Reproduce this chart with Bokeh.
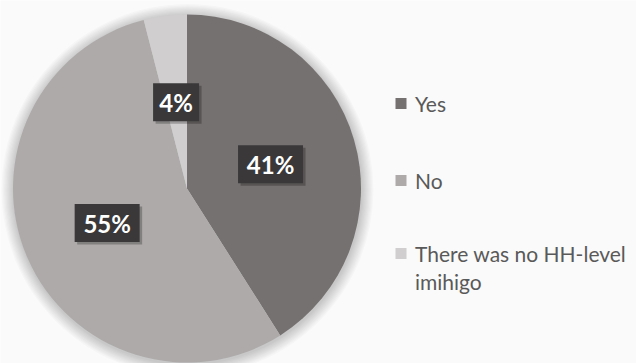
import numpy as np
from bokeh.plotting import figure
from bokeh.models import Range1d, ColumnDataSource
from bokeh.core.properties import value
from bokeh.embed import file_html
from bokeh.resources import INLINE

# ---- data ----
categories = ["Yes", "No", "There was no HH-level imihigo"]
legend_labels = ["Yes", "No", "There was no HH-level\nimihigo"]
shares = [41, 55, 4]
pct_labels = ["41%", "55%", "4%"]
colors = ["#767171", "#AEAAAA", "#D0CECE"]

W, H = 636, 363
BG = "#FAFAFA"

p = figure(width=W, height=H, output_backend="svg", toolbar_location=None,
           x_range=Range1d(0, W), y_range=Range1d(0, H),
           min_border=0, min_border_left=0, min_border_right=0,
           min_border_top=0, min_border_bottom=0)
p.axis.visible = False
p.grid.visible = False
p.outline_line_color = None
p.background_fill_color = BG
p.border_fill_color = BG

cx, cy, R = 186.5, H - 188.0, 174.0

# soft shadow glow
for i in range(10, 0, -1):
    p.circle(x=[cx + 0.5], y=[cy - 1.5], radius=R + i * 1.2,
             fill_color="black", fill_alpha=0.018, line_color=None)

# wedges: clockwise from 12 o'clock
fr = np.array(shares, dtype=float) / sum(shares)
cum = np.concatenate([[0], np.cumsum(fr)])
start_cw = cum[:-1]
end_cw = cum[1:]
end_angle = np.pi / 2 - 2 * np.pi * start_cw
start_angle = np.pi / 2 - 2 * np.pi * end_cw
src = ColumnDataSource(dict(cat=categories, start=start_angle, end=end_angle, color=colors))
p.wedge(x=cx, y=cy, radius=R, start_angle="start", end_angle="end",
        fill_color="color", line_color=None, source=src)

# data labels
mid = np.pi / 2 - 2 * np.pi * (start_cw + end_cw) / 2
lr = 0.5 * R
lx = cx + lr * np.cos(mid)
ly = cy + lr * np.sin(mid)
widths = [65 if len(t) > 2 else 46 for t in pct_labels]
p.rect(x=lx + 2.5, y=ly - 2.5, width=widths, height=38, fill_color="black",
       fill_alpha=0.25, line_color=None)
p.rect(x=lx, y=ly, width=widths, height=38, fill_color="#3A3838", line_color=None)
p.text(x=lx, y=ly, text=pct_labels, text_font=value("Lato"), text_font_style="bold",
       text_font_size="24px", text_color="white", text_align="center",
       text_baseline="middle")

# legend
leg_x = 400.5
leg_y = [H - 103, H - 180, H - 253]
line_gap = 28
p.rect(x=[leg_x] * 3, y=leg_y, width=11, height=11, fill_color=colors, line_color=None)
tx, ty, tt = [], [], []
for yy, lab in zip(leg_y, legend_labels):
    for k, ln in enumerate(lab.split("\n")):
        tx.append(leg_x + 14)
        ty.append(yy - k * line_gap)
        tt.append(ln)
p.text(x=tx, y=ty, text=tt, text_font=value("Lato"),
       text_font_size="21px", text_color="#595959", text_align="left",
       text_baseline="middle")

open("out.html", "w").write(file_html(p, INLINE))
